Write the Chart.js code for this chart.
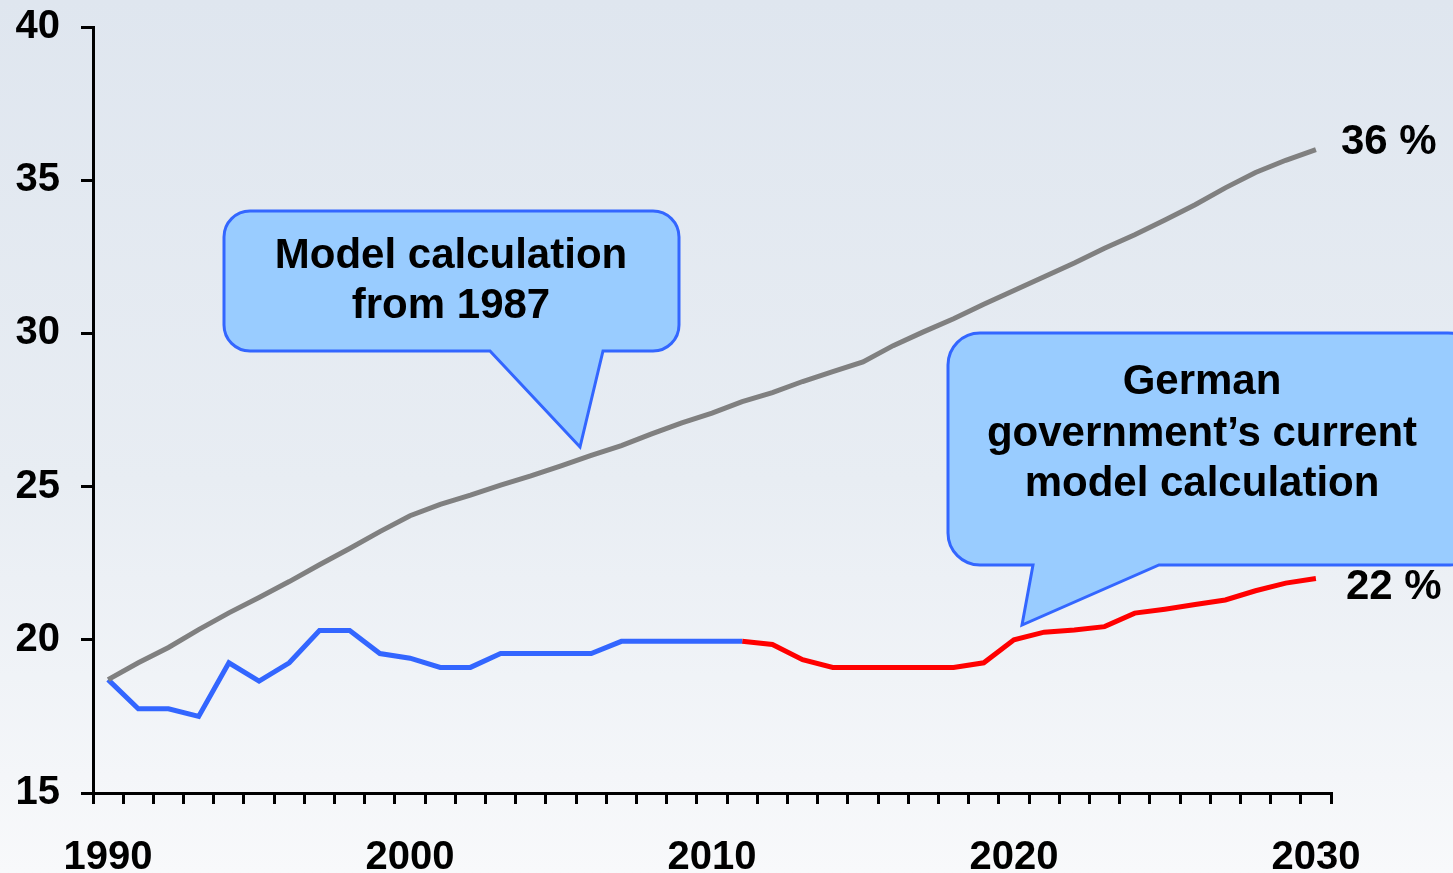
<!DOCTYPE html>
<html>
<head>
<meta charset="utf-8">
<script src="https://cdn.jsdelivr.net/npm/chart.js@4"></script>
<style>
  html, body { margin: 0; padding: 0; background: #fff; }
  #wrap { width: 1453px; height: 873px; position: relative; }
</style>
</head>
<body>
<div id="wrap"><canvas id="pensionChart"></canvas></div>
<script>
var years = [
    "1990", "1991", "1992", "1993", "1994", "1995", "1996", "1997", "1998", "1999",
    "2000", "2001", "2002", "2003", "2004", "2005", "2006", "2007", "2008", "2009",
    "2010", "2011", "2012", "2013", "2014", "2015", "2016", "2017", "2018", "2019",
    "2020", "2021", "2022", "2023", "2024", "2025", "2026", "2027", "2028", "2029",
    "2030"
];

// model calculation from 1987 (grey)
var model1987 = [
    18.7, 19.25, 19.75, 20.33, 20.88, 21.38, 21.9, 22.45, 22.98, 23.53,
    24.05, 24.42, 24.72, 25.05, 25.35, 25.68, 26.02, 26.34, 26.72, 27.08,
    27.4, 27.77, 28.07, 28.43, 28.75, 29.07, 29.6, 30.05, 30.48, 30.95,
    31.4, 31.85, 32.3, 32.78, 33.22, 33.7, 34.2, 34.75, 35.25, 35.65,
    36.0
];

// actual values (blue)
var actual = [
    18.7, 17.75, 17.75, 17.5, 19.25, 18.65, 19.25, 20.3, 20.3, 19.55,
    19.4, 19.1, 19.1, 19.55, 19.55, 19.55, 19.55, 19.95, 19.95, 19.95,
    19.95, 19.95, null, null, null, null, null, null, null, null,
    null, null, null, null, null, null, null, null, null, null,
    null
];

// current government model (red)
var current = [
    null, null, null, null, null, null, null, null, null, null,
    null, null, null, null, null, null, null, null, null, null,
    null, 19.95, 19.85, 19.35, 19.1, 19.1, 19.1, 19.1, 19.1, 19.25,
    20.0, 20.25, 20.32, 20.43, 20.87, 21.0, 21.15, 21.3, 21.6, 21.85,
    22.0
];

var yTicks = [15, 20, 25, 30, 35, 40];

var FONT = "'Liberation Sans', Arial, sans-serif";

function roundedCallout(ctx, x1, y1, x2, y2, r, tail) {
    // tail: [baseLeftX, tipX, tipY, baseRightX] on the bottom edge
    ctx.beginPath();
    ctx.moveTo(x1 + r, y1);
    ctx.lineTo(x2 - r, y1);
    ctx.arcTo(x2, y1, x2, y1 + r, r);
    ctx.lineTo(x2, y2 - r);
    ctx.arcTo(x2, y2, x2 - r, y2, r);
    ctx.lineTo(tail[3], y2);
    ctx.lineTo(tail[1], tail[2]);
    ctx.lineTo(tail[0], y2);
    ctx.lineTo(x1 + r, y2);
    ctx.arcTo(x1, y2, x1, y2 - r, r);
    ctx.lineTo(x1, y1 + r);
    ctx.arcTo(x1, y1, x1 + r, y1, r);
    ctx.closePath();
    ctx.fillStyle = "#99ccff";
    ctx.fill();
    ctx.lineWidth = 3;
    ctx.strokeStyle = "#3366ff";
    ctx.stroke();
}

var backdrop = {
    id: "backdrop",
    beforeDraw: function (chart) {
        var c = chart.ctx;
        var g = c.createLinearGradient(0, 0, 0, chart.height);
        g.addColorStop(0, "#dfe6ef");
        g.addColorStop(0.55, "#e8edf3");
        g.addColorStop(1, "#f8f9fb");
        c.save();
        c.fillStyle = g;
        c.fillRect(0, 0, chart.width, chart.height);
        c.restore();
    }
};

var callouts = {
    id: "callouts",
    afterDraw: function (chart) {
        var c = chart.ctx;
        c.save();
        roundedCallout(c, 224, 211, 679, 351, 26, [490, 580, 447, 603]);
        roundedCallout(c, 948, 333, 1480, 565, 32, [1033, 1022, 625, 1159]);

        c.fillStyle = "#000";
        c.textAlign = "center";
        c.textBaseline = "middle";
        c.font = "bold 42px " + FONT;
        c.fillText("Model calculation", 451, 256);
        c.fillText("from 1987", 451, 306);
        c.fillText("German", 1202, 382);
        c.fillText("government\u2019s current", 1202, 434);
        c.fillText("model calculation", 1202, 484);

        // end labels next to the last points
        var xs = chart.scales.x, ys = chart.scales.y;
        var last = years.length - 1;
        c.textAlign = "left";
        c.fillText("36 %", xs.getPixelForValue(last) + 25, ys.getPixelForValue(model1987[last]) - 7);
        c.fillText("22 %", xs.getPixelForValue(last) + 30, ys.getPixelForValue(current[last]) + 9);
        c.restore();
    }
};

var chart = new Chart(document.getElementById("pensionChart").getContext("2d"), {
    type: "line",
    data: {
        labels: years,
        datasets: [
            {
                label: "Model calculation from 1987",
                data: model1987,
                borderColor: "#808080",
                borderWidth: 5,
                pointRadius: 0,
                fill: false,
                tension: 0
            },
            {
                label: "Actual",
                data: actual,
                borderColor: "#3366ff",
                borderWidth: 5,
                pointRadius: 0,
                fill: false,
                tension: 0
            },
            {
                label: "Current model calculation",
                data: current,
                borderColor: "#ff0000",
                borderWidth: 5,
                pointRadius: 0,
                fill: false,
                tension: 0
            }
        ]
    },
    options: {
        responsive: true,
        maintainAspectRatio: false,
        animation: false,
        layout: { padding: { left: 0, top: 27, right: 122, bottom: 0 } },
        plugins: {
            legend: { display: false },
            tooltip: { enabled: false }
        },
        scales: {
            x: {
                offset: true,
                grid: {
                    offset: true,
                    drawOnChartArea: false,
                    drawTicks: true,
                    tickLength: 11,
                    color: "#000",
                    lineWidth: 3
                },
                border: { color: "#000", width: 3 },
                ticks: {
                    autoSkip: false,
                    maxRotation: 0,
                    padding: 30,
                    color: "#000",
                    font: { family: FONT, size: 40, weight: "bold" },
                    callback: function (v, i) {
                        var y = years[i];
                        return Number(y) % 10 === 0 ? y : "";
                    }
                },
                afterFit: function (s) {
                    s.height = 80;
                    s.paddingLeft = 0;
                    s.paddingRight = 0;
                }
            },
            y: {
                min: 15,
                max: 40,
                afterBuildTicks: function (s) {
                    s.ticks = yTicks.map(function (v) { return { value: v }; });
                },
                grid: {
                    drawOnChartArea: false,
                    drawTicks: true,
                    tickLength: 12,
                    color: "#000",
                    lineWidth: 3
                },
                border: { color: "#000", width: 3 },
                ticks: {
                    padding: 21,
                    color: "#000",
                    font: { family: FONT, size: 40, weight: "bold" }
                },
                afterFit: function (s) {
                    s.width = 93;
                    s.paddingTop = 0;
                    s.paddingBottom = 0;
                }
            }
        }
    },
    plugins: [backdrop, callouts]
});
</script>
</body>
</html>
